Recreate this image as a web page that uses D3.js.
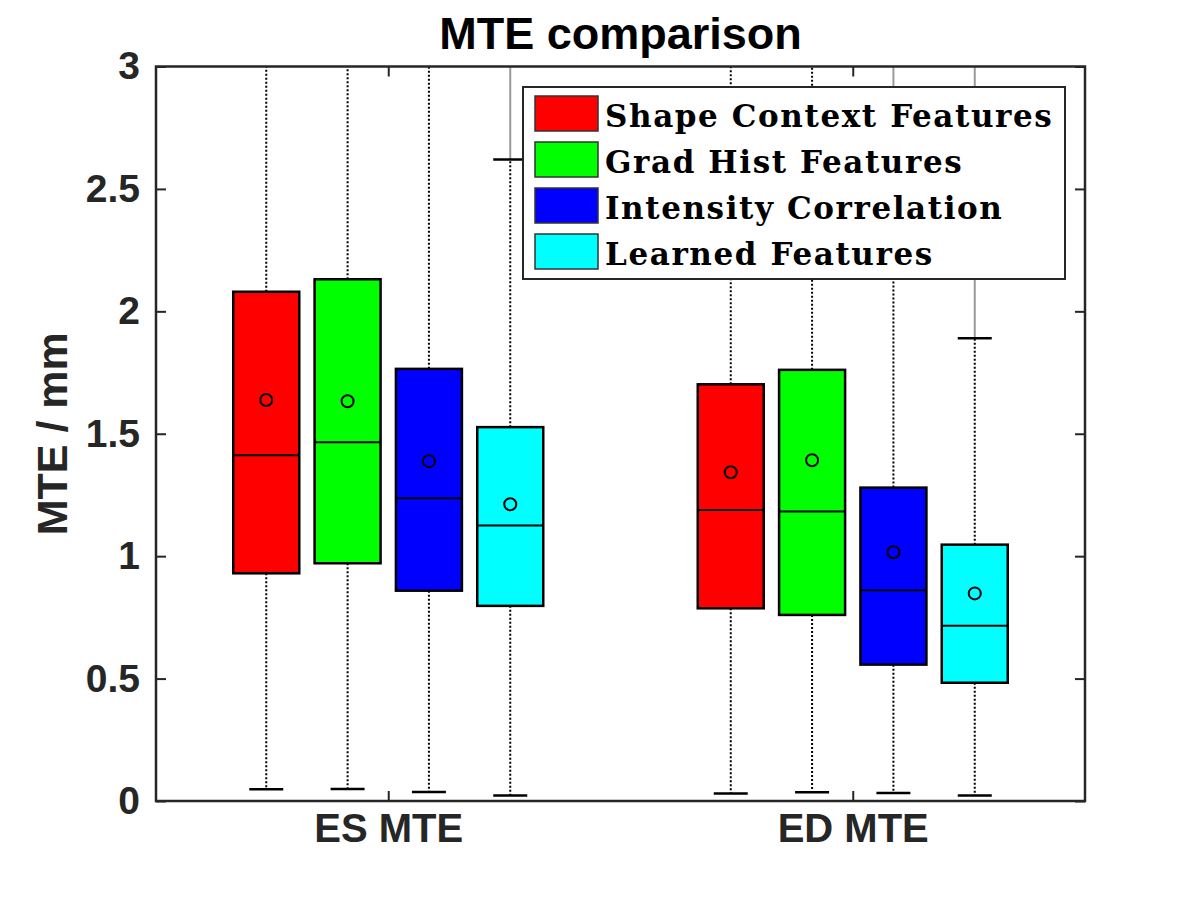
<!DOCTYPE html>
<html>
<head>
<meta charset="utf-8">
<script src="https://cdn.jsdelivr.net/npm/d3@7"></script>
<style>
  body { margin: 0; background: #fff; }
  svg { display: block; }
</style>
</head>
<body>
<div id="chart"></div>
<script>
// groups on the x axis and the four feature types
var groups = ["ES MTE", "ED MTE"];
var series = ["Shape Context Features", "Grad Hist Features", "Intensity Correlation", "Learned Features"];
var colors = ["#ff0000", "#00ff00", "#0000ff", "#00ffff"];

// box statistics, one row per group, one value per series
var lowerWhisker = [[0.048, 0.049, 0.037, 0.022], [0.031, 0.036, 0.033, 0.022]];
var q1           = [[0.930, 0.971, 0.859, 0.797], [0.787, 0.760, 0.557, 0.483]];
var median       = [[1.412, 1.465, 1.237, 1.125], [1.189, 1.182, 0.861, 0.716]];
var q3           = [[2.080, 2.131, 1.765, 1.527], [1.702, 1.761, 1.280, 1.047]];
var mean         = [[1.638, 1.633, 1.388, 1.212], [1.343, 1.392, 1.016, 0.848]];
var upperWhisker = [[3.3, 3.3, 3.3, 2.62], [3.3, 3.3, 2.5, 1.89]];
// top of the dense outlier run (null = none)
var outlierTop   = [[null, null, null, 3.3], [null, null, 3.3, 3.3]];

var yTicks = [0, 0.5, 1, 1.5, 2, 2.5, 3];

var w = 1200, h = 900;
var pLeft = 156, pRight = 1085, pTop = 66.5, pBottom = 801;
var boxW = 66, capW = 34;
var ink = "#262626";
var sans = "'Liberation Sans', Arial, Helvetica, sans-serif";

var svg = d3.select("#chart").append("svg")
  .attr("width", w)
  .attr("height", h);

var y = d3.scaleLinear().domain([0, 3]).range([pBottom, pTop]);
var x = d3.scalePoint().domain(groups).range([pLeft, pRight]).padding(0.5);
var xi = d3.scalePoint().domain(series).range([-122, 122]);

svg.append("clipPath").attr("id", "plotclip")
  .append("rect")
  .attr("x", pLeft).attr("y", pTop)
  .attr("width", pRight - pLeft).attr("height", pBottom - pTop);

// flatten into one record per box
var boxes = [];
groups.forEach(function(g, gi) {
  series.forEach(function(s, si) {
    boxes.push({
      g: g, s: s, color: colors[si],
      lo: lowerWhisker[gi][si], q1: q1[gi][si], med: median[gi][si],
      q3: q3[gi][si], hi: upperWhisker[gi][si], mean: mean[gi][si],
      out: outlierTop[gi][si]
    });
  });
});

var plot = svg.append("g").attr("clip-path", "url(#plotclip)");

var bx = function(d) { return x(d.g) + xi(d.s); };

// outliers (grey, drawn densely)
plot.selectAll(".outlier")
  .data(boxes.filter(function(d) { return d.out !== null; }))
  .enter().append("line")
  .attr("x1", bx).attr("x2", bx)
  .attr("y1", function(d) { return y(d.hi); })
  .attr("y2", function(d) { return y(d.out); })
  .attr("stroke", "#9a9a9a")
  .attr("stroke-width", 2);

// whiskers, dotted
plot.selectAll(".whiskhi")
  .data(boxes).enter().append("line")
  .attr("x1", bx).attr("x2", bx)
  .attr("y1", function(d) { return y(d.q3); })
  .attr("y2", function(d) { return y(d.hi); })
  .attr("stroke", "#000").attr("stroke-width", 2)
  .attr("stroke-dasharray", "2,2");

plot.selectAll(".whisklo")
  .data(boxes).enter().append("line")
  .attr("x1", bx).attr("x2", bx)
  .attr("y1", function(d) { return y(d.q1); })
  .attr("y2", function(d) { return y(d.lo); })
  .attr("stroke", "#000").attr("stroke-width", 2)
  .attr("stroke-dasharray", "2,2");

// caps
plot.selectAll(".caplo")
  .data(boxes).enter().append("line")
  .attr("x1", function(d) { return bx(d) - capW / 2; })
  .attr("x2", function(d) { return bx(d) + capW / 2; })
  .attr("y1", function(d) { return y(d.lo); })
  .attr("y2", function(d) { return y(d.lo); })
  .attr("stroke", "#000").attr("stroke-width", 2.5);

plot.selectAll(".caphi")
  .data(boxes).enter().append("line")
  .attr("x1", function(d) { return bx(d) - capW / 2; })
  .attr("x2", function(d) { return bx(d) + capW / 2; })
  .attr("y1", function(d) { return y(d.hi); })
  .attr("y2", function(d) { return y(d.hi); })
  .attr("stroke", "#000").attr("stroke-width", 2.5);

// boxes
plot.selectAll(".box")
  .data(boxes).enter().append("rect")
  .attr("x", function(d) { return bx(d) - boxW / 2; })
  .attr("y", function(d) { return y(d.q3); })
  .attr("width", boxW)
  .attr("height", function(d) { return y(d.q1) - y(d.q3); })
  .attr("fill", function(d) { return d.color; })
  .attr("stroke", "#000").attr("stroke-width", 2.5);

plot.selectAll(".median")
  .data(boxes).enter().append("line")
  .attr("x1", function(d) { return bx(d) - boxW / 2; })
  .attr("x2", function(d) { return bx(d) + boxW / 2; })
  .attr("y1", function(d) { return y(d.med); })
  .attr("y2", function(d) { return y(d.med); })
  .attr("stroke", "#000").attr("stroke-width", 2);

plot.selectAll(".mean")
  .data(boxes).enter().append("circle")
  .attr("cx", bx)
  .attr("cy", function(d) { return y(d.mean); })
  .attr("r", 6)
  .attr("fill", "none")
  .attr("stroke", "#000").attr("stroke-width", 2);

// axes
var fmt = function(d) { return d3.format("")(d); };

var yAxis = svg.append("g")
  .attr("transform", "translate(" + pLeft + ",0)")
  .call(d3.axisLeft(y).tickValues(yTicks).tickFormat(fmt).tickSizeInner(-10).tickSizeOuter(0).tickPadding(16));
var yAxisR = svg.append("g")
  .attr("transform", "translate(" + pRight + ",0)")
  .call(d3.axisRight(y).tickValues(yTicks).tickFormat("").tickSizeInner(-10).tickSizeOuter(0));
var xAxis = svg.append("g")
  .attr("transform", "translate(0," + pBottom + ")")
  .call(d3.axisBottom(x).tickSizeInner(-10).tickSizeOuter(0).tickPadding(13));
var xAxisT = svg.append("g")
  .attr("transform", "translate(0," + pTop + ")")
  .call(d3.axisTop(x).tickFormat("").tickSizeInner(-10).tickSizeOuter(0));

[yAxis, yAxisR, xAxis, xAxisT].forEach(function(a) {
  a.select(".domain").remove();
  a.selectAll(".tick line").attr("stroke", ink).attr("stroke-width", 2);
  a.selectAll("text")
    .attr("fill", ink)
    .style("font-family", sans)
    .style("font-weight", "bold")
    .style("font-size", "39px");
});
xAxis.selectAll("text").style("font-size", "40px");

// frame
svg.append("rect")
  .attr("x", pLeft).attr("y", pTop)
  .attr("width", pRight - pLeft).attr("height", pBottom - pTop)
  .attr("fill", "none")
  .attr("stroke", ink).attr("stroke-width", 2.5);

// title and y label
svg.append("text")
  .attr("x", (pLeft + pRight) / 2).attr("y", 49)
  .attr("text-anchor", "middle")
  .style("font-family", sans).style("font-weight", "bold").style("font-size", "45px")
  .attr("fill", "#000")
  .text("MTE comparison");

svg.append("text")
  .attr("transform", "translate(67," + (pTop + pBottom) / 2 + ") rotate(-90)")
  .attr("text-anchor", "middle")
  .style("font-family", sans).style("font-weight", "bold").style("font-size", "43px")
  .attr("fill", ink)
  .text("MTE / mm");

// legend
var lg = svg.append("g").attr("transform", "translate(523,87)");
lg.append("rect")
  .attr("width", 542).attr("height", 192)
  .attr("fill", "#fff")
  .attr("stroke", ink).attr("stroke-width", 2);

var item = lg.selectAll(".item")
  .data(series).enter().append("g")
  .attr("transform", function(d, i) { return "translate(12," + (9 + i * 46) + ")"; });

item.append("rect")
  .attr("width", 63).attr("height", 35)
  .attr("fill", function(d, i) { return colors[i]; })
  .attr("stroke", "#333").attr("stroke-width", 1.5);

item.append("text")
  .attr("x", 70).attr("y", 31)
  .style("font-family", "'DejaVu Serif', 'Liberation Serif', serif")
  .style("font-weight", "bold")
  .style("font-size", "31px")
  .style("letter-spacing", "1.6px")
  .attr("fill", "#000")
  .text(function(d) { return d; });
</script>
</body>
</html>
